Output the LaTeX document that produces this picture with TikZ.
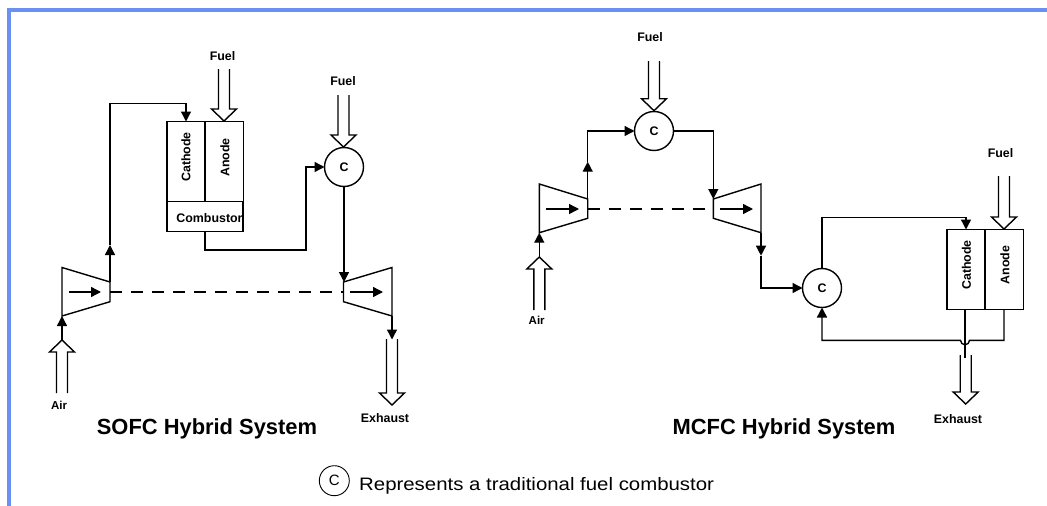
\documentclass[tikz,border=0pt]{standalone}
\usepackage{fontspec}
\setmainfont{Liberation Sans}
\usetikzlibrary{arrows.meta,calc}
\definecolor{framecol}{HTML}{6A8FF5}
\tikzset{
  ln/.style={line width=1.4pt,line join=miter,black},
  flow/.style={ln,-{Triangle[length=10pt,width=10pt]}},
  cellbox/.style={draw,line width=1.4pt,minimum width=38pt,minimum height=80pt,inner sep=0pt,outer sep=0pt},
  combbox/.style={draw,line width=1.4pt,minimum width=76pt,minimum height=30pt,inner sep=0pt,outer sep=0pt},
  burner/.style={draw,circle,line width=1.4pt,minimum size=39pt,inner sep=0pt,outer sep=0pt,font=\fontsize{12.4pt}{14pt}\selectfont\bfseries},
  lbl/.style={inner sep=0pt,font=\fontsize{12.4pt}{14pt}\selectfont\bfseries},
  title/.style={inner sep=0pt,anchor=base,font=\fontsize{21.9pt}{26pt}\selectfont\bfseries},
  legendtxt/.style={inner sep=0pt,anchor=base west,font=\fontsize{18pt}{22pt}\selectfont},
  dashline/.style={line width=1.4pt,dash pattern=on 12pt off 9pt},
  machine/.style={ln}
}
\newcommand{\hollowarrow}[4]{% x, tip y, shaft end y, dir (+1 points up in the picture, -1 down)
  \draw[ln] ({#1-5.5},#3) -- ({#1-5.5},{#2+#4*12}) -- ({#1-12.5},{#2+#4*12}) -- (#1,#2)
    -- ({#1+12.5},{#2+#4*12}) -- ({#1+5.5},{#2+#4*12}) -- ({#1+5.5},#3);}
\begin{document}
\begin{tikzpicture}[x=1pt,y=-1pt]
\useasboundingbox (0,0) rectangle (1047,506);
% frame
\fill[framecol] (7,8) rectangle (1047,11.5);
\fill[framecol] (7,8) rectangle (10.5,506);

% ---------- SOFC ----------
\node[cellbox] (sc) at (186,161.5) {};
\node[cellbox] (sa) at (224.5,161.5) {};
\node[combbox] (sb) at (205,216.5) {};
\node[lbl,rotate=90] (sct) at (186,157) {Cathode};
\node[lbl,rotate=90] (sat) at (225,157.5) {Anode};
\node[lbl] (sbt) at (209.5,218) {Combustor};
\node[burner] (sC) at (344,167) {C};
\node[lbl] (sf1) at (222.5,56) {Fuel};
\node[lbl] (sf2) at (343,81) {Fuel};
\node[lbl,font=\fontsize{11.5pt}{14pt}\selectfont\bfseries] (sair) at (59,405) {Air};
\node[lbl] (sex) at (385,418.5) {Exhaust};
\node[title] (stitle) at (207,434) {SOFC Hybrid System};

\coordinate (cA1) at (62,267.5);
\coordinate (cA2) at (110,282);
\coordinate (cA3) at (110,301.7);
\coordinate (cA4) at (62,316);
\coordinate (tA1) at (343.5,282);
\coordinate (tA2) at (392,267.5);
\coordinate (tA3) at (392,316);
\coordinate (tA4) at (343.5,301.7);
\draw[machine] (cA1) -- (cA2) -- (cA3) -- (cA4) -- cycle;
\draw[machine] (tA1) -- (tA2) -- (tA3) -- (tA4) -- cycle;
\coordinate (cAi) at (69,292); \coordinate (cAo) at (101,292);
\coordinate (tAi) at (350,292); \coordinate (tAo) at (383,292);
\draw[flow] (cAi) -- (cAo);
\draw[flow] (tAi) -- (tAo);
\coordinate (cAm) at (110,292); \coordinate (tAm) at (343.5,292);
\draw[dashline] (cAm) -- (tAm);

% air in
\coordinate (airA) at (62,340);
\draw[flow] (airA) -- (cA4);
\hollowarrow{62}{340}{393}{1}
% compressor to cathode
\coordinate (mA) at (110,245);
\coordinate (cnA) at (110,103.5);
\coordinate (cnB) at (186,103.5);
\draw[flow] (cA2) -- (mA);
\draw[flow] (mA) -- (cnA) -- (cnB) -- (sc.north -| cnB);
% fuel in
\hollowarrow{224}{121}{69}{-1}
\hollowarrow{343.5}{147}{95}{-1}
% combustor to C
\coordinate (cnC) at (205,250);
\coordinate (cnD) at (306,250);
\draw[flow] (sb.south -| cnC) -- (cnC) -- (cnD) -- (cnD |- sC) -- (sC.west);
% C to turbine
\draw[flow] (sC.south) -- (sC.south |- tA1);
% exhaust
\coordinate (exA) at (392,339.5);
\draw[flow] (tA3) -- (exA);
\hollowarrow{392}{405}{339}{-1}

% ---------- MCFC ----------
\node[burner] (mC1) at (654,131) {C};
\node[burner] (mC2) at (822,288) {C};
\node[cellbox] (mc) at (966,269.5) {};
\node[cellbox] (ma) at (1004.2,269.5) {};
\node[lbl,rotate=90] (mct) at (966.5,265) {Cathode};
\node[lbl,rotate=90] (mat) at (1005,265) {Anode};
\node[lbl] (mf1) at (650,37) {Fuel};
\node[lbl] (mf2) at (1000.5,153) {Fuel};
\node[lbl,font=\fontsize{11.5pt}{14pt}\selectfont\bfseries] (mair) at (536.7,320.7) {Air};
\node[lbl] (mex) at (958,418.7) {Exhaust};
\node[title] (mtitle) at (784,434) {MCFC Hybrid System};

\coordinate (cB1) at (539.3,184);
\coordinate (cB2) at (587.7,199);
\coordinate (cB3) at (587.7,218.3);
\coordinate (cB4) at (539.3,232.7);
\coordinate (tB1) at (713.3,199);
\coordinate (tB2) at (761,184);
\coordinate (tB3) at (761,232.7);
\coordinate (tB4) at (713.3,218.3);
\draw[machine] (cB1) -- (cB2) -- (cB3) -- (cB4) -- cycle;
\draw[machine] (tB1) -- (tB2) -- (tB3) -- (tB4) -- cycle;
\coordinate (cBi) at (546,209); \coordinate (cBo) at (579,209);
\coordinate (tBi) at (720,209); \coordinate (tBo) at (753,209);
\draw[flow] (cBi) -- (cBo);
\draw[flow] (tBi) -- (tBo);
\coordinate (cBm) at (587.7,209); \coordinate (tBm) at (713.3,209);
\draw[dashline] (cBm) -- (tBm);

\coordinate (airB) at (539.3,257);
\draw[flow] (airB) -- (cB4);
\hollowarrow{539.3}{257}{310}{1}
% compressor to C1
\coordinate (mB) at (587.7,161.7);
\draw[flow] (cB2) -- (mB);
\draw[flow] (mB) -- (mB |- mC1) -- (mC1.west);
\hollowarrow{654}{110.7}{61}{-1}
% C1 to turbine
\draw[flow] (mC1.east) -- (tB1 |- mC1) -- (tB1);
% turbine to C2
\coordinate (mT) at (761,255.7);
\draw[flow] (tB3) -- (mT);
\draw[flow] (mT) -- (mT |- mC2) -- (mC2.west);
% C2 to cathode
\coordinate (cnE) at (822,217.7);
\coordinate (cnF) at (966,217.7);
\draw[flow] (mC2.north) -- (cnE) -- (cnF) -- (mc.north);
% anode return with bump over the cathode outlet
\coordinate (rA) at (1004,340.3);
\coordinate (rB) at (822,340.3);
\draw[flow] (ma.south -| rA) -- (rA) -- (969.5,340.3) arc[start angle=0,end angle=180,radius=4.5] -- (rB) -- (mC2.south);
% cathode outlet
\coordinate (exB) at (965,357.7);
\draw[ln] (mc.south -| exB) -- (exB);
\hollowarrow{965.7}{404}{355}{-1}
\hollowarrow{1004}{229}{176}{-1}

% legend
\node[draw,circle,line width=0.9pt,minimum size=30pt,inner sep=0pt,font=\fontsize{15pt}{16pt}\selectfont] (lg) at (334.3,480.7) {C};
\node[legendtxt] (lgt) at (359,490.7) {\scalebox{1.133}[1]{Represents a traditional fuel combustor}};
\end{tikzpicture}
\end{document}
